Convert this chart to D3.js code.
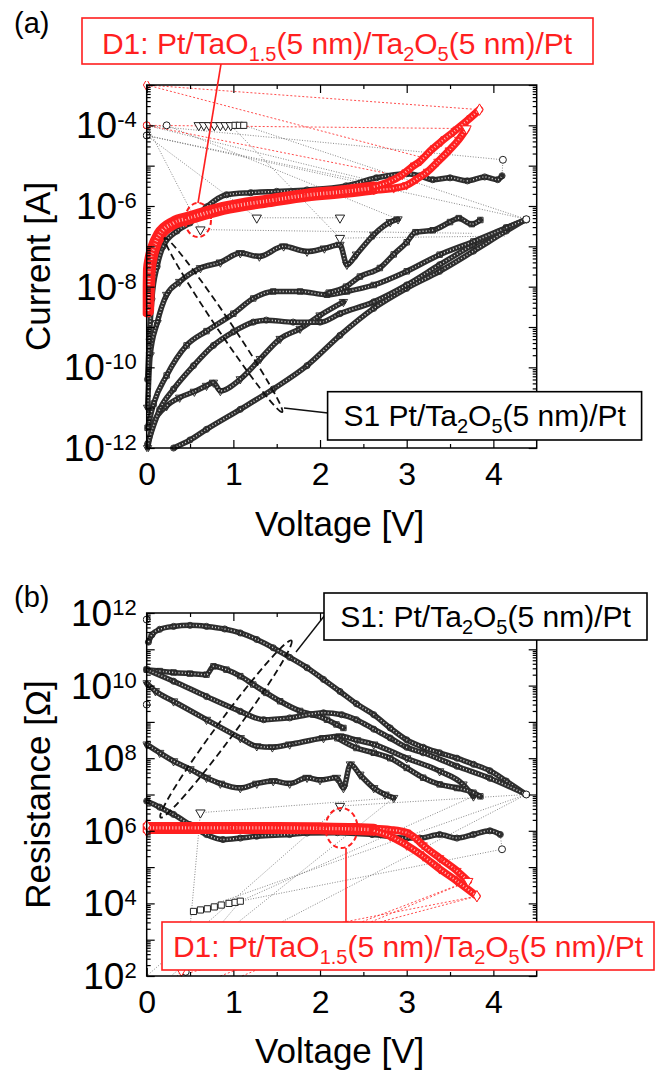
<!DOCTYPE html>
<html>
<head>
<meta charset="utf-8">
<script src="https://cdn.jsdelivr.net/npm/d3@7"></script>
<style>
  body { margin: 0; background: #fff; }
  text { font-family: Arial, "Liberation Sans", sans-serif; }
</style>
</head>
<body>
<svg id="chart" width="670" height="1071"></svg>
<script>
// ---------- data: [voltage V, current A] ----------
const xTicks = [0, 1, 2, 3, 4];
const xMinorTicks = [0.5, 1.5, 2.5, 3.5];
const currentLabelExps = [-12, -10, -8, -6, -4];
const resistLabelExps = [2, 4, 6, 8, 10, 12];

// D1 (red) sweeps in panel (a)
const aRedBand = [[0.01,2.5e-9],[0.03,2.5e-8],[0.05,5.0e-8],[0.08,9.1e-8],[0.15,1.95e-7],[0.31,3.8e-7],[0.50,5.1e-7],[0.88,8.7e-7],[1.46,1.4e-6],[1.85,1.86e-6],[2.30,2.3e-6],[2.62,2.8e-6]];
const aRedUpper = [[2.62,3.0e-6],[2.80,4.0e-6],[2.95,6.0e-6],[3.05,8.9e-6],[3.16,1.32e-5],[3.28,2.4e-5],[3.40,4.0e-5],[3.54,6.9e-5],[3.70,1.32e-4],[3.84,2.45e-4]];
const aRedLower = [[2.62,2.5e-6],[2.85,2.75e-6],[3.00,3.3e-6],[3.12,4.7e-6],[3.24,7.1e-6],[3.36,1.26e-5],[3.49,2.4e-5],[3.60,4.4e-5],[3.69,8.3e-5]];

// S1 (black) sweeps in panel (a)
const aS1circ = [[0.01,5.0e-11],[0.03,5.0e-10],[0.06,5.0e-9],[0.12,3.16e-8],[0.19,1.0e-7],[0.35,2.4e-7],[0.50,3.8e-7],[0.69,9.5e-7],[0.92,1.9e-6],[1.20,2.14e-6],[1.50,2.3e-6],[1.85,2.5e-6],[2.30,3.16e-6],[2.65,5.0e-6],[3.00,6.3e-6],[3.15,5.6e-6],[3.30,4.5e-6],[3.50,5.0e-6],[3.70,4.2e-6],[3.90,5.25e-6],[4.05,4.5e-6],[4.10,5.6e-6]];
const aS1tri = [[0.01,1.0e-11],[0.04,2.0e-10],[0.12,1.26e-9],[0.23,6.3e-9],[0.38,1.32e-8],[0.62,2.9e-8],[0.85,4.0e-8],[1.08,6.8e-8],[1.30,5.6e-8],[1.58,1.0e-7],[1.85,7.4e-8],[2.05,8.9e-8],[2.23,1.1e-7],[2.31,3.5e-8],[2.42,6.3e-8],[2.62,1.95e-7],[2.81,4.0e-7],[2.90,4.7e-7]];
const aS1mid = [[0.01,3.16e-12],[0.08,1.26e-11],[0.23,6.3e-11],[0.46,3.5e-10],[0.69,7.9e-10],[1.00,2.14e-9],[1.23,5.1e-9],[1.46,7.6e-9],[1.77,7.6e-9],[2.08,6.3e-9],[2.31,7.6e-9],[2.62,1.1e-8],[3.00,2.4e-8],[3.38,6.2e-8],[3.77,1.32e-7],[4.15,2.9e-7],[4.38,4.7e-7]];
const aS1sq = [[2.10,7.1e-9],[2.30,1.0e-8],[2.46,1.78e-8],[2.69,2.9e-8],[2.85,6.3e-8],[3.00,1.26e-7],[3.10,2.24e-7],[3.30,2.5e-7],[3.50,4.0e-7],[3.60,5.0e-7],[3.75,3.55e-7],[3.85,4.5e-7]];
const aS1low = [[0.01,1.26e-12],[0.15,9.1e-12],[0.31,2.9e-11],[0.54,1.1e-10],[0.77,3.5e-10],[1.00,7.6e-10],[1.23,1.32e-9],[1.38,1.48e-9],[1.69,1.32e-9],[2.00,1.32e-9],[2.23,2.14e-9],[2.62,4.2e-9],[3.00,1.1e-8],[3.38,3.5e-8],[3.77,1.1e-7],[4.15,2.9e-7],[4.38,4.5e-7]];
const aS1noisy = [[0.01,1.0e-12],[0.08,4.2e-12],[0.23,1.1e-11],[0.38,1.78e-11],[0.55,2.5e-11],[0.69,3.5e-11],[0.77,4.2e-11],[0.85,2.6e-11],[1.08,5.1e-11],[1.31,1.62e-10],[1.54,5.1e-10],[1.77,9.1e-10],[2.00,1.95e-9],[2.27,4.2e-9]];
const aS1first = [[0.31,1.0e-12],[0.50,1.58e-12],[0.69,2.9e-12],[1.08,9.1e-12],[1.46,2.9e-11],[1.85,1.1e-10],[2.23,6.2e-10],[2.62,2.9e-9],[3.00,9.1e-9],[3.38,2.4e-8],[3.77,7.6e-8],[4.15,2.4e-7],[4.38,4.7e-7]];

// isolated points (compliance / return) in panel (a)
const aPoints = [
  [0,1e-4,'circle'],[0.23,1e-4,'circle'],[0,5.6e-5,'circle'],[4.11,1.4e-5,'circle'],[4.38,4.7e-7,'circle'],
  [0.60,1e-4,'tri'],[0.66,1e-4,'tri'],[0.72,1e-4,'tri'],[0.78,1e-4,'tri'],[0.85,1e-4,'tri'],[0.91,1e-4,'tri'],[0.97,1e-4,'tri'],
  [1.27,5.1e-7,'tri'],[2.23,5.1e-7,'tri'],[0.62,2.6e-7,'tri'],[2.23,1.6e-7,'tri'],
  [1.02,1e-4,'square'],[1.07,1e-4,'square'],[1.12,1e-4,'square']
];
const aRedPoints = [[0,1e-3,'diamond'],[0,1e-4,'circle'],[3.84,2.45e-4,'diamond'],[3.69,8.3e-5,'tri']];
const aBlackJumps = [
  [[0,1e-4],[4.11,1.4e-5]], [[0,1e-4],[2.55,4.5e-6]], [[0,5.6e-5],[4.38,4.7e-7]], [[0,5.6e-5],[3.0,2.5e-6]],
  [[0,5.6e-5],[1.27,5.1e-7]], [[0.23,1e-4],[2.9,4.7e-7]], [[1.12,1e-4],[4.38,4.7e-7]], [[0.97,1e-4],[2.23,1.6e-7]],
  [[1.27,5.1e-7],[2.23,5.1e-7]], [[0.62,2.6e-7],[3.77,2.1e-7]], [[0,1e-4],[0.62,2.6e-7]], [[2.23,1.6e-7],[4.15,1.8e-7]],
  [[4.11,1.4e-5],[4.10,5.6e-6]]
];
const aRedJumps = [
  [[0,1e-3],[3.84,2.45e-4]], [[0,1e-3],[3.15,1.66e-5]], [[0,1e-4],[3.69,8.3e-5]], [[0,1e-4],[2.95,5.4e-6]]
];

// ---------- panel (b): [voltage V, resistance ohm] ----------
const bRedBand = [[0.00,1.2e6],[0.50,1.2e6],[1.00,1.2e6],[1.50,1.2e6],[2.00,1.17e6],[2.40,1.12e6],[2.62,1.07e6]];
const bRedDiam = [[2.62,1.0e6],[2.81,7.1e5],[3.00,4.0e5],[3.19,2.0e5],[3.38,8.9e4],[3.58,4.1e4],[3.81,1.58e4]];
const bRedTri = [[2.62,1.15e6],[2.81,1.07e6],[3.00,8.9e5],[3.10,6.3e5],[3.19,4.0e5],[3.38,1.78e5],[3.58,7.9e4],[3.71,4.1e4]];

const bS1first = [[0.02,1.58e11],[0.06,2.51e11],[0.15,3.55e11],[0.31,4.27e11],[0.50,4.57e11],[0.69,4.27e11],[0.90,3.63e11],[1.08,2.82e11],[1.27,1.86e11],[1.46,1.1e11],[1.65,6.0e10],[1.85,3.1e10],[2.04,1.48e10],[2.23,6.9e9],[2.42,3.16e9],[2.62,1.58e9],[2.81,6.8e8],[3.00,3.2e8],[3.19,2.0e8],[3.38,1.41e8],[3.58,1.0e8],[3.77,6.8e7],[3.96,4.5e7],[4.15,2.34e7],[4.38,1.0e7]];
const bS1noisy = [[0.00,2.75e10],[0.15,2.51e10],[0.31,2.3e10],[0.50,2.14e10],[0.69,2.0e10],[0.77,3.4e10],[0.92,2.75e10],[1.08,1.82e10],[1.23,1.07e10],[1.38,6.3e9],[1.54,3.7e9],[1.77,2.0e9],[1.92,1.58e9],[2.08,1.15e9],[2.19,8.5e8],[2.27,6.8e8]];
const bS1low = [[0.00,2.75e10],[0.31,1.32e10],[0.69,5.0e9],[1.08,1.95e9],[1.35,1.15e9],[1.65,1.29e9],[2.04,1.78e9],[2.25,1.58e9],[2.42,1.15e9],[2.62,6.3e8],[2.81,3.6e8],[3.00,2.0e8],[3.19,1.41e8],[3.58,6.0e7],[3.96,2.8e7],[4.38,1.0e7]];
const bS1mid = [[0.00,1.17e10],[0.10,7.1e9],[0.31,3.7e9],[0.69,1.15e9],[1.08,3.6e8],[1.27,2.14e8],[1.45,2.0e8],[1.65,2.4e8],[2.04,3.6e8],[2.23,4.0e8],[2.42,3.16e8],[2.62,2.4e8],[3.00,1.0e8],[3.38,4.4e7],[3.65,1.9e7],[3.77,8.9e6]];
const bS1sq = [[2.20,3.55e8],[2.42,1.91e8],[2.62,1.41e8],[2.81,1.0e8],[3.00,5.4e7],[3.19,2.9e7],[3.38,1.9e7],[3.58,1.51e7],[3.77,1.12e7],[3.85,8.9e6]];
const bS1tri = [[0.00,2.4e8],[0.15,1.41e8],[0.31,8.3e7],[0.50,5.0e7],[0.69,2.9e7],[0.85,2.0e7],[1.08,1.51e7],[1.27,2.0e7],[1.46,2.34e7],[1.65,2.0e7],[1.85,2.9e7],[2.00,2.51e7],[2.19,2.9e7],[2.27,1.51e7],[2.35,6.8e7],[2.46,3.55e7],[2.62,1.51e7],[2.75,1.0e7],[2.85,8.1e6]];
const bS1circ = [[0.00,6.6e6],[0.15,4.47e6],[0.31,2.82e6],[0.50,1.48e6],[0.69,7.9e5],[0.88,5.75e5],[1.08,6.3e5],[1.27,7.1e5],[1.65,7.9e5],[1.85,8.7e5],[2.20,8.9e5],[2.60,7.9e5],[3.00,6.3e5],[3.15,6.3e5],[3.38,7.9e5],[3.58,6.3e5],[3.77,7.9e5],[3.96,1.0e6],[4.08,7.9e5]];

const bPoints = [
  [0,6.6e11,'circle'],[0,3.0e9,'circle'],[4.10,3.1e5,'circle'],[4.38,1.0e7,'circle'],
  [0.62,3.16e6,'tri'],[2.23,4.8e6,'tri'],[0.45,1.3e2,'circle'],
  [0.54,6.0e3,'square'],[0.62,6.6e3,'square'],[0.70,7.1e3,'square'],[0.78,8.0e3,'square'],[0.86,9.0e3,'square'],[0.95,1.0e4,'square'],[1.02,1.07e4,'square'],[1.08,1.15e4,'square']
];
const bRedPoints = [[0,1.0e6,'diamond'],[0,1.4e6,'diamond'],[3.81,1.58e4,'diamond'],[3.71,4.1e4,'tri'],[0.40,1.4e2,'diamond']];
const bBlackJumps = [
  [[0.02,1.1e2],[2.23,4.8e6]], [[0.30,1.1e2],[2.85,8.1e6]], [[0.45,1.3e2],[4.38,1.0e7]], [[0.62,3.16e6],[2.85,8.1e6]],
  [[2.23,4.8e6],[4.38,1.0e7]], [[0.54,6.0e3],[4.38,1.0e7]], [[1.08,1.15e4],[4.10,3.1e5]], [[0.45,1.0e2],[0.62,3.16e6]],
  [[0.35,1.0e2],[1.08,1.15e4]], [[1.08,1.15e4],[3.77,8.9e6]], [[4.10,3.1e5],[4.08,7.9e5]]
];
const bRedJumps = [
  [[0.42,1.1e2],[3.81,1.58e4]], [[0.85,1.0e2],[3.71,4.1e4]], [[1.40,1.2e3],[3.81,1.58e4]], [[1.10,1.0e2],[3.71,4.1e4]]
];

// ---------- layout ----------
const svg = d3.select('#chart');
const X_RANGE = [146.7, 536.7];
const RED = '#ff1f1f';

const symbolOf = {
  circle: d3.symbolCircle, square: d3.symbolSquare, tri: d3.symbolTriangle, diamond: d3.symbolDiamond
};

function drawPanel(cfg) {
  const x = d3.scaleLinear().domain([0, 4.5]).range(X_RANGE);
  const y = d3.scaleLog().domain(cfg.yDomain).range([cfg.bottom, cfg.top]);
  const g = svg.append('g');

  const clipId = 'clip-' + cfg.id;
  svg.append('clipPath').attr('id', clipId)
    .append('rect')
      .attr('x', X_RANGE[0] - 4).attr('y', cfg.top - 4)
      .attr('width', X_RANGE[1] - X_RANGE[0] + 8).attr('height', cfg.bottom - cfg.top + 8);
  const plot = g.append('g').attr('clip-path', `url(#${clipId})`);

  const line = d3.line().x(d => x(d[0])).y(d => y(d[1])).curve(d3.curveMonotoneX);
  const straight = d3.line().x(d => x(d[0])).y(d => y(d[1]));

  // thin dotted jump lines first (they sit under the sweeps)
  cfg.blackJumps.forEach(s => {
    plot.append('path').attr('d', straight(s))
      .attr('fill', 'none').attr('stroke', '#555').attr('stroke-width', 0.7)
      .attr('stroke-dasharray', '1 1.6');
  });
  cfg.redJumps.forEach(s => {
    plot.append('path').attr('d', straight(s))
      .attr('fill', 'none').attr('stroke', RED).attr('stroke-width', 0.8)
      .attr('stroke-dasharray', '2 2');
  });

  // a sweep drawn as a dense chain of hollow markers
  function sweep(data, shape, color, width) {
    plot.append('path').attr('d', line(data))
      .attr('fill', 'none').attr('stroke', color).attr('stroke-width', width)
      .attr('stroke-linejoin', 'round').attr('stroke-linecap', 'round');
    plot.append('path').attr('d', line(data))
      .attr('fill', 'none').attr('stroke', color === RED ? '#ffbcbc' : '#d9d9d9')
      .attr('stroke-width', Math.max(1.2, width * 0.28))
      .attr('stroke-dasharray', '1 2.2');
    plot.selectAll(null).data(data).join('path')
      .attr('d', d3.symbol().type(symbolOf[shape]).size(30))
      .attr('transform', d => `translate(${x(d[0])},${y(d[1])})` + (shape === 'tri' ? ' rotate(180)' : ''))
      .attr('fill', 'none').attr('stroke', color === RED ? RED : '#222').attr('stroke-width', 0.9);
  }

  cfg.black.forEach(t => sweep(t.data, t.shape, '#2e2e2e', 5.5));
  sweep(cfg.redBand, 'diamond', RED, cfg.redWidth);
  cfg.redBranches.forEach(t => sweep(t.data, t.shape, RED, 7.5));

  function points(list, color) {
    plot.selectAll(null).data(list).join('path')
      .attr('d', d => d3.symbol().type(symbolOf[d[2]]).size(38)())
      .attr('transform', d => `translate(${x(d[0])},${y(d[1])})` + (d[2] === 'tri' ? ' rotate(180)' : ''))
      .attr('fill', 'white').attr('stroke', color).attr('stroke-width', 1);
  }
  points(cfg.points, '#222');
  points(cfg.redPoints, RED);

  // ---------- axes: inward ticks on all four sides ----------
  const axes = g.append('g');
  const decades = d3.range(Math.log10(cfg.yDomain[0]), Math.log10(cfg.yDomain[1]) + 1).map(e => Math.pow(10, e));
  const minors = [];
  decades.slice(0, -1).forEach(d => { for (let k = 2; k <= 9; k++) minors.push(d * k); });

  const strip = sel => { sel.select('.domain').remove(); sel.selectAll('line').attr('stroke', '#000').attr('stroke-width', 1.2); };

  axes.append('g').attr('transform', `translate(${X_RANGE[0]},0)`)
    .call(d3.axisLeft(y).tickValues(decades).tickSize(-8).tickFormat('')).call(strip);
  axes.append('g').attr('transform', `translate(${X_RANGE[0]},0)`)
    .call(d3.axisLeft(y).tickValues(minors).tickSize(-4).tickFormat('')).call(strip);
  axes.append('g').attr('transform', `translate(${X_RANGE[1]},0)`)
    .call(d3.axisRight(y).tickValues(decades).tickSize(-8).tickFormat('')).call(strip);
  axes.append('g').attr('transform', `translate(${X_RANGE[1]},0)`)
    .call(d3.axisRight(y).tickValues(minors).tickSize(-4).tickFormat('')).call(strip);

  axes.append('g').attr('transform', `translate(0,${cfg.bottom})`)
    .call(d3.axisBottom(x).tickValues(xTicks).tickSize(-8).tickPadding(14).tickFormat(d3.format('d')))
    .call(strip)
    .call(s => s.selectAll('text').attr('font-size', 32).attr('fill', '#000')
      .attr('font-family', 'Arial, "Liberation Sans", sans-serif'));
  axes.append('g').attr('transform', `translate(0,${cfg.bottom})`)
    .call(d3.axisBottom(x).tickValues(xMinorTicks).tickSize(-4).tickFormat('')).call(strip);
  axes.append('g').attr('transform', `translate(0,${cfg.top})`)
    .call(d3.axisTop(x).tickValues(xTicks).tickSize(-8).tickFormat('')).call(strip);
  axes.append('g').attr('transform', `translate(0,${cfg.top})`)
    .call(d3.axisTop(x).tickValues(xMinorTicks).tickSize(-4).tickFormat('')).call(strip);

  g.append('rect')
    .attr('x', X_RANGE[0]).attr('y', cfg.top)
    .attr('width', X_RANGE[1] - X_RANGE[0]).attr('height', cfg.bottom - cfg.top)
    .attr('fill', 'none').attr('stroke', '#000').attr('stroke-width', 1.5);

  // power-of-ten labels
  const lab = g.selectAll(null).data(cfg.labelExps).join('text')
    .attr('x', X_RANGE[0] - 10).attr('y', e => y(Math.pow(10, e)) + 13)
    .attr('text-anchor', 'end').attr('font-size', 37).attr('fill', '#000');
  lab.append('tspan').text('10');
  lab.append('tspan').attr('font-size', 22).attr('dy', -11).text(e => e < 0 ? '-' + (-e) : e);

  // axis titles and panel letter
  g.append('text')
    .attr('transform', `translate(50,${(cfg.top + cfg.bottom) / 2}) rotate(-90)`)
    .attr('text-anchor', 'middle').attr('font-size', 35).text(cfg.yTitle);
  g.append('text')
    .attr('x', (X_RANGE[0] + X_RANGE[1]) / 2 - 2).attr('y', cfg.xTitleY)
    .attr('text-anchor', 'middle').attr('font-size', 35).text('Voltage [V]');
  g.append('text').attr('x', 14).attr('y', cfg.letterY).attr('font-size', 29).text(cfg.letter);

  return { x, y, g };
}

// label with subscripts: parts are [text, isSub]
function richLabel(parent, cx, baseY, parts, color) {
  const t = parent.append('text').attr('x', cx).attr('y', baseY)
    .attr('text-anchor', 'middle').attr('font-size', 30).attr('fill', color);
  let down = false;
  parts.forEach(([s, sub]) => {
    const ts = t.append('tspan').text(s);
    if (sub && !down) { ts.attr('font-size', 20).attr('dy', 7); down = true; }
    else if (sub) { ts.attr('font-size', 20); }
    else if (down) { ts.attr('dy', -7); down = false; }
  });
}
function box(parent, x0, y0, w, h, color) {
  parent.append('rect').attr('x', x0).attr('y', y0).attr('width', w).attr('height', h)
    .attr('fill', 'white').attr('stroke', color).attr('stroke-width', 1.6);
}
const d1Parts = [['D1: Pt/TaO', 0], ['1.5', 1], ['(5 nm)/Ta', 0], ['2', 1], ['O', 0], ['5', 1], ['(5 nm)/Pt', 0]];

// ---------- panel (a) ----------
const pa = drawPanel({
  id: 'a', top: 85, bottom: 448, yDomain: [1e-12, 1e-3], labelExps: currentLabelExps,
  yTitle: 'Current [A]', xTitleY: 536, letter: '(a)', letterY: 33, redWidth: 13,
  black: [
    { data: aS1first, shape: 'circle' }, { data: aS1noisy, shape: 'tri' }, { data: aS1low, shape: 'circle' },
    { data: aS1mid, shape: 'square' }, { data: aS1sq, shape: 'square' }, { data: aS1tri, shape: 'tri' },
    { data: aS1circ, shape: 'circle' }
  ],
  redBand: aRedBand,
  redBranches: [{ data: aRedLower, shape: 'tri' }, { data: aRedUpper, shape: 'diamond' }],
  points: aPoints, redPoints: aRedPoints, blackJumps: aBlackJumps, redJumps: aRedJumps
});

const annA = svg.append('g');
// D1 callout
annA.append('line').attr('x1', 221).attr('y1', 64).attr('x2', 198).attr('y2', 203)
  .attr('stroke', RED).attr('stroke-width', 1.6);
annA.append('ellipse').attr('cx', 198).attr('cy', 220).attr('rx', 13).attr('ry', 17)
  .attr('fill', 'none').attr('stroke', RED).attr('stroke-width', 2).attr('stroke-dasharray', '5 3');
box(annA, 82, 18, 511, 46, RED);
richLabel(annA, 337, 54, d1Parts, RED);
// S1 callout
annA.append('ellipse').attr('cx', 0).attr('cy', 0).attr('rx', 105).attr('ry', 7)
  .attr('transform', 'translate(223.5,325) rotate(56)')
  .attr('fill', 'none').attr('stroke', '#111').attr('stroke-width', 1.8).attr('stroke-dasharray', '7 4');
annA.append('line').attr('x1', 284).attr('y1', 408).attr('x2', 328).attr('y2', 413)
  .attr('stroke', '#111').attr('stroke-width', 1.4);
box(annA, 327.6, 391.7, 314, 48.3, '#000');
richLabel(annA, 484.7, 426, [['S1 Pt/Ta', 0], ['2', 1], ['O', 0], ['5', 1], ['(5 nm)/Pt', 0]], '#000');

// ---------- panel (b) ----------
const pb = drawPanel({
  id: 'b', top: 613, bottom: 976, yDomain: [1e2, 1e12], labelExps: resistLabelExps,
  yTitle: 'Resistance [\u03A9]', xTitleY: 1063, letter: '(b)', letterY: 607, redWidth: 12,
  black: [
    { data: bS1first, shape: 'circle' }, { data: bS1noisy, shape: 'square' }, { data: bS1low, shape: 'circle' },
    { data: bS1mid, shape: 'tri' }, { data: bS1sq, shape: 'square' }, { data: bS1tri, shape: 'tri' },
    { data: bS1circ, shape: 'circle' }
  ],
  redBand: bRedBand,
  redBranches: [{ data: bRedTri, shape: 'tri' }, { data: bRedDiam, shape: 'diamond' }],
  points: bPoints, redPoints: bRedPoints, blackJumps: bBlackJumps, redJumps: bRedJumps
});

const annB = svg.append('g');
annB.append('ellipse').attr('cx', 0).attr('cy', 0).attr('rx', 110).attr('ry', 9)
  .attr('transform', 'translate(226,729) rotate(-53.5)')
  .attr('fill', 'none').attr('stroke', '#111').attr('stroke-width', 1.8).attr('stroke-dasharray', '7 4');
annB.append('line').attr('x1', 296).attr('y1', 652).attr('x2', 325).attr('y2', 615)
  .attr('stroke', '#111').attr('stroke-width', 1.4);
box(annB, 324, 593, 323, 47, '#000');
richLabel(annB, 485.5, 627, [['S1: Pt/Ta', 0], ['2', 1], ['O', 0], ['5', 1], ['(5 nm)/Pt', 0]], '#000');

annB.append('ellipse').attr('cx', 341.5).attr('cy', 828).attr('rx', 16).attr('ry', 20)
  .attr('fill', 'none').attr('stroke', RED).attr('stroke-width', 2).attr('stroke-dasharray', '5 3');
annB.append('line').attr('x1', 346).attr('y1', 848).attr('x2', 346).attr('y2', 922)
  .attr('stroke', RED).attr('stroke-width', 1.6);
box(annB, 162, 922, 492, 48, RED);
richLabel(annB, 408, 957, d1Parts, RED);
</script>
</body>
</html>
